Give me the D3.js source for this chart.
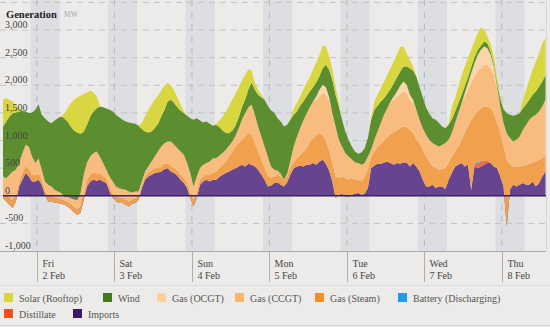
<!DOCTYPE html>
<html>
<head>
<meta charset="utf-8">
<script src="https://cdn.jsdelivr.net/npm/d3@7"></script>
<style>
  html, body { margin: 0; padding: 0; background: #edebe9; }
  svg { display: block; font-family: "Liberation Serif", "DejaVu Serif", serif; }
</style>
</head>
<body>
<svg id="chart" width="550" height="327"></svg>
<script>
// --- DATOS (hourly, from Thu 1 Feb 2018 13:30) ---
const START = new Date(2018, 1, 1, 13, 30);
const HOURS = 168;

const imports = [
  -42,-103,-163,-223,-103,169,289,410,350,259,259,289,199,18,-103,-103,-121,-133,-145,-163,-193,-241,-302,-344,-314,-72,169,259,289,271,289,259,229,78,-42,-103,-133,-133,-163,-193,-145,-133,
  -72,139,289,350,380,410,422,440,482,500,440,410,362,289,229,139,-42,-193,-42,199,259,289,259,289,289,338,380,410,440,470,500,531,561,531,579,561,531,470,380,289,169,181,229,
  241,199,169,241,380,500,531,543,531,561,561,591,561,621,651,579,458,259,-42,18,36,-12,-24,18,36,48,18,36,139,500,549,579,573,603,615,591,561,591,579,603,603,
  531,591,531,440,289,169,169,199,139,169,169,121,289,410,531,561,591,531,561,109,531,500,531,561,591,591,531,500,350,169,-555,109,199,169,199,229,199,199,259,169,229,350,440
];
const distillate = [
  0,0,0,0,0,0,0,0,0,0,0,0, 0,0,0,0,0,0,0,0,0,0,0,0,
  0,0,0,0,0,0,0,0,0,0,0,0, 0,0,0,0,0,0,0,0,0,0,0,0,
  0,0,0,0,0,0,0,0,0,0,0,0, 0,0,0,0,0,0,0,0,0,0,0,0,
  0,0,0,0,0,0,0,0,0,0,0,0, 0,0,0,0,0,0,0,0,0,0,0,0,
  0,0,0,0,0,0,0,0,0,0,0,0, 0,0,0,0,0,0,0,0,0,0,0,0,
  0,0,0,0,0,0,0,0,0,0,0,0, 0,0,0,0,0,0,0,0,0,0,0,0,
  0,0,
  40,80,90,70,40,
  0,0,0,0,0,0,0,0,0,0,0,0, 0,0,0,0,0,0
];
const battery = [
  0,0,0,0,0,0,0,0,0,0,0,0, 0,0,0,0,0,0,0,0,0,0,0,0,
  0,0,0,0,0,0,0,0,0,0,0,0, 0,0,0,0,0,0,0,0,0,0,0,0,
  0,0,0,0,0,0,0,0,0,0,0,0, 0,0,0,0,0,0,0,0,0,0,0,0,
  0,0,0,0,0,0,0,0,0,0,0,0, 0,0,0,0,0,0,0,0,0,0,0,0,
  0,0,0,0,0,0,0,0,0,0,0,0, 0,0,0,0,0,0,0,0,0,0,0,0,
  0,0,0,0,0,0,0,0,0,0,0,0, 0,0,0,0,0,0,0,0,0,0,0,0,
  0,0,
  20,30,10,
  0,0,0,0,0,0,0,0,0,0,0,0, 0,0,0,0,0,0,0,0
];
const gasSteam = [
  100,110,120,130,110,100,120,130,140,120,110,110,90,80,90,90,80,80,70,70,70,80,80,90,100,110,120,120,130,130,120,100,90,80,80,80,80,80,80,70,70,70,
  60,60,60,72,78,90,90,90,96,90,103,90,96,90,90,90,90,90,90,90,90,90,121,121,151,163,181,211,271,332,392,422,452,543,555,543,422,332,271,211,181,151,121,
  139,151,100,110,121,109,145,193,265,295,410,440,531,513,446,416,356,332,392,302,314,332,314,302,253,241,241,302,330,200,250,302,368,398,446,525,591,591,645,651,645,
  663,543,494,513,543,543,452,332,362,302,314,380,302,302,271,332,422,603,693,1266,875,915,955,985,985,995,965,814,784,724,1206,452,332,362,332,314,362,380,344,452,422,332,283
];
const gasCCGT = [
  292,312,423,533,463,322,362,383,403,332,222,282,181,161,212,181,149,131,123,81,111,119,161,181,262,342,302,332,352,401,302,232,151,191,222,191,191,173,191,201,135,141,
  91,61,91,109,163,212,290,362,374,392,440,423,404,423,423,362,362,272,302,212,212,212,241,271,241,223,211,211,193,181,193,271,362,422,470,542,513,452,422,392,362,199,120,
  78,48,21,47,138,283,386,488,567,628,633,676,645,663,761,851,911,904,904,693,542,452,422,343,314,302,302,253,243,132,214,283,374,464,525,591,585,605,616,634,610,
  533,543,531,422,392,392,392,422,422,422,440,452,422,422,513,603,663,664,664,665,694,725,726,756,755,725,694,603,482,422,482,483,452,482,542,651,723,796,832,844,874,934,1013
];
const gasOCGT = [
  0,0,0,0,0,0,0,0,0,0,0,0, 0,0,0,0,0,0,0,0,0,0,0,0,
  0,0,0,0,0,0,0,0,0,0,0,0, 0,0,0,0,0,0,0,0,0,0,0,0,
  0,0,0,0,0,0,0,0,0,0,0,0, 0,0,0,0,0,0,0,0,0,0,0,0,
  0,0,0,0,0,0,0,0,0,0,0,0, 0,0,0,0,0,0,0,0,0,0,0,0,
  0,
  60,120,150,120,60,
  0,0,0,0,0,0,0,0,0,0,0,0, 0,0,0,0,0,0,0,
  60,100,150,180,150,100,60,
  0,0,0,0,0,0,0,0,0,0,0,0, 0,0,0,
  60,120,180,240,300,330,330,300,240,150,60,
  0,0,0,0,0,0,0,0,0,0,0,0, 0,0,0
];
const wind = [
  905,1025,1055,1055,1037,935,766,603,603,796,965,977,995,1146,1146,1146,1254,1327,1387,1417,1357,1297,1242,1218,1073,784,693,724,754,784,905,1013,1109,1206,1266,1296,1284,1254,1236,1248,1254,1224,
  1188,947,724,615,543,513,500,543,603,724,754,754,742,742,754,856,995,1206,1055,862,766,754,681,585,603,519,410,302,229,199,181,199,229,253,326,404,452,573,712,844,917,1013,1037,
  947,947,965,886,736,573,464,404,344,314,283,259,253,253,302,404,494,603,573,603,482,392,302,229,199,169,223,271,332,543,543,464,392,302,259,223,241,259,259,271,332,
  482,531,603,591,561,500,470,452,452,422,332,271,271,250,210,180,150,130,110,109,109,90,72,90,90,60,48,60,133,253,362,422,464,452,422,392,374,362,392,422,452,452,452
];
const solarRooftop = [
  482,422,301,211,139,60,0,0,0,0,0,0,0,0,0,0,0,0,0,90,241,422,555,639,687,681,585,470,344,211,12,0,0,0,0,0,0,0,0,0,0,0,
  0,109,271,410,482,513,507,470,434,344,253,229,181,103,30,0,0,0,0,0,0,0,0,0,18,121,253,392,494,555,579,543,482,440,362,217,133,90,42,12,0,0,0,
  0,0,0,0,30,121,151,169,211,241,259,314,362,380,404,332,241,181,139,90,0,0,0,0,0,0,0,0,0,48,151,199,241,302,344,380,392,422,440,362,241,
  151,72,0,0,0,0,0,0,0,0,0,0,30,223,241,302,350,350,350,314,283,302,332,211,121,139,139,109,48,18,0,0,0,0,0,151,259,362,452,543,603,693,663
];

const FUELS = [
  { key: "solar",      label: "Solar (Rooftop)",       values: solarRooftop, color: "#d9d53a", fill: "#d8d742" },
  { key: "wind",       label: "Wind",                  values: wind,         color: "#417b1c", fill: "#5c8e30" },
  { key: "ocgt",       label: "Gas (OCGT)",            values: gasOCGT,      color: "#fdd09c", fill: "#fbd5aa" },
  { key: "ccgt",       label: "Gas (CCGT)",            values: gasCCGT,      color: "#fcb465", fill: "#f8bc7e" },
  { key: "steam",      label: "Gas (Steam)",           values: gasSteam,     color: "#f3901f", fill: "#f1a14e" },
  { key: "battery",    label: "Battery (Discharging)", values: battery,      color: "#1f9bf0", fill: "#4aa8ec" },
  { key: "distillate", label: "Distillate",            values: distillate,   color: "#f35020", fill: "#f26845" },
  { key: "imports",    label: "Imports",               values: imports,      color: "#3d176c", fill: "#66448f" }
];

const Y_TICKS = [-1000, -500, 0, 500, 1000, 1500, 2000, 2500, 3000, 3500];

// --- ESCALAS ---
const svg = d3.select("#chart");
const W = 550, PLOT_L = 3, PLOT_R = 546, PLOT_T = 0, PLOT_B = 251;
const end = new Date(+START + HOURS * 3600e3);
const x = d3.scaleTime().domain([START, end]).range([3, 545.5]);
const y = d3.scaleLinear().domain([-1000, 3500]).range([251, 2.4]);
const fmt = d3.formatLocale({ decimal: ".", thousands: ",", grouping: [3], currency: ["", ""], minus: "-" }).format(",");

const rows = d3.range(HOURS + 1).map(i => {
  const r = { date: new Date(+START + i * 3600e3) };
  FUELS.forEach(f => r[f.key] = f.values[i]);
  return r;
});

// --- BANDAS NOCTURNAS ---
d3.timeDay.range(d3.timeDay.floor(START), end).forEach(d => {
  const a = d3.timeHour.offset(d, 22), b = d3.timeHour.offset(d, 31);
  const x0 = Math.max(PLOT_L, x(a)), x1 = Math.min(PLOT_R, x(b));
  if (x1 <= x0) return;
  svg.append("rect")
    .attr("x", x0).attr("y", PLOT_T)
    .attr("width", x1 - x0).attr("height", PLOT_B - PLOT_T)
    .attr("fill", "#dddee1");
});

// --- REJILLA ---
Y_TICKS.filter(v => v > -1000).forEach(v => {
  svg.append("line")
    .attr("x1", 0).attr("x2", PLOT_R)
    .attr("y1", y(v)).attr("y2", y(v))
    .attr("stroke", "#c3c3c3").attr("stroke-width", 1)
    .attr("stroke-dasharray", "6,5");
});

const days = d3.timeDay.range(d3.timeDay.ceil(START), end);
days.forEach(d => {
  svg.append("line")
    .attr("x1", x(d)).attr("x2", x(d))
    .attr("y1", PLOT_T).attr("y2", PLOT_B)
    .attr("stroke", "#b8b8b8").attr("stroke-width", 1)
    .attr("stroke-dasharray", "6,6");
});

// --- AREAS APILADAS ---
const stackKeys = FUELS.map(f => f.key).reverse();
const series = d3.stack().keys(stackKeys).offset(d3.stackOffsetNone)(rows);
const fillOf = Object.fromEntries(FUELS.map(f => [f.key, f.fill]));

svg.append("clipPath").attr("id", "plot-clip")
  .append("rect").attr("x", PLOT_L).attr("y", PLOT_T)
  .attr("width", PLOT_R - PLOT_L).attr("height", PLOT_B - PLOT_T);

const area = d3.area()
  .x(d => x(d.data.date))
  .y0(d => y(d[0]))
  .y1(d => y(d[1]));

svg.append("g").attr("clip-path", "url(#plot-clip)")
  .selectAll("path")
  .data(series)
  .join("path")
  .attr("d", area)
  .attr("fill", s => fillOf[s.key]);

// zero line
svg.append("line")
  .attr("x1", PLOT_L).attr("x2", PLOT_R)
  .attr("y1", y(0)).attr("y2", y(0))
  .attr("stroke", "#3b2160").attr("stroke-width", 1.3);

// axis base + right border
svg.append("line")
  .attr("x1", 0).attr("x2", PLOT_R)
  .attr("y1", y(-1000) + 0.5).attr("y2", y(-1000) + 0.5)
  .attr("stroke", "#a9a9a9");
svg.append("line")
  .attr("x1", PLOT_R + 0.5).attr("x2", PLOT_R + 0.5)
  .attr("y1", 0).attr("y2", PLOT_B)
  .attr("stroke", "#d6d6d6");

// --- EJE Y ---
Y_TICKS.filter(v => v <= 3000).forEach(v => {
  svg.append("text")
    .attr("x", 5).attr("y", y(v) - 2)
    .style("font-size", "10px").attr("fill", "#444")
    .text(fmt(v));
});
svg.append("text")
  .attr("x", 6).attr("y", 17.5)
  .style("font-size", "10.5px").style("font-weight", "700").attr("fill", "#222")
  .text("Generation");
svg.append("text")
  .attr("x", 64).attr("y", 17)
  .style("font-size", "7.5px").attr("fill", "#a5a5a5")
  .text("MW");

// --- EJE X ---
const fmtDay = d3.timeFormat("%a"), fmtDate = d3.timeFormat("%-d %b");
days.forEach(d => {
  const xd = Math.round(x(d)) + 0.5;
  svg.append("line")
    .attr("x1", xd).attr("x2", xd)
    .attr("y1", PLOT_B).attr("y2", 282)
    .attr("stroke", "#adadad");
  svg.append("text")
    .attr("x", xd + 5).attr("y", 267)
    .style("font-size", "10px").attr("fill", "#444")
    .text(fmtDay(d));
  svg.append("text")
    .attr("x", xd + 5).attr("y", 278.5)
    .style("font-size", "10px").attr("fill", "#444")
    .text(fmtDate(d));
});

svg.append("line").attr("x1", 0).attr("x2", W).attr("y1", 285.5).attr("y2", 285.5)
  .attr("stroke", "#dcdcdc");
svg.append("line").attr("x1", 0).attr("x2", W).attr("y1", 325.5).attr("y2", 325.5)
  .attr("stroke", "#d4d4d4");

// --- LEYENDA ---
const LEGEND_POS = [[4, 293], [103, 293], [157, 293], [235, 293], [315, 293], [398, 293], [4, 309], [73, 309]];
FUELS.forEach((f, i) => {
  const [lx, ly] = LEGEND_POS[i];
  const g = svg.append("g").attr("transform", `translate(${lx},${ly})`);
  g.append("rect").attr("width", 9).attr("height", 9).attr("fill", f.color);
  g.append("text")
    .attr("x", 15).attr("y", 8.5)
    .style("font-size", "10px").attr("fill", "#555")
    .text(f.label);
});

// sanity check
FUELS.forEach(f => {
  if (f.values.length !== HOURS + 1) {
    svg.append("text").attr("x", 200).attr("y", 20 + 12 * FUELS.indexOf(f))
      .attr("fill", "red").style("font-size", "11px")
      .text(`${f.key}: ${f.values.length}`);
  }
});
</script>
</body>
</html>
